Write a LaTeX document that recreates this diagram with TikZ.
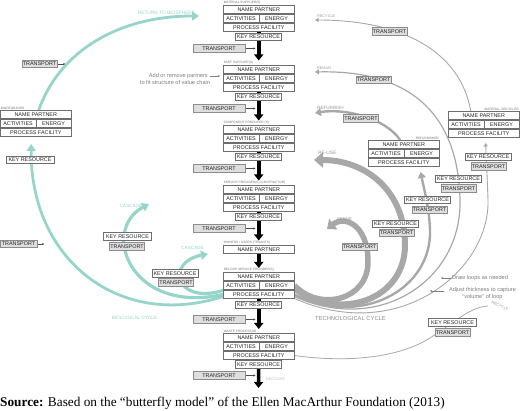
\documentclass[tikz,border=0pt]{standalone}
\usepackage{fontspec}
\setmainfont{Liberation Sans}
\newfontfamily\srcfont{Liberation Serif}
\usetikzlibrary{arrows.meta,backgrounds,calc}
\definecolor{tealc}{RGB}{150,213,201}
\definecolor{loopg}{RGB}{168,168,168}
\definecolor{boxb}{RGB}{110,110,110}
\definecolor{transf}{RGB}{222,222,222}
\definecolor{anng}{RGB}{125,125,125}
\tikzset{
 cell/.style={draw=boxb, line width=0.5pt, fill=white, inner sep=0pt, minimum height=8.5pt, font=\fontsize{5.4}{6}\selectfont, text=black!85},
 plabel/.style={inner sep=0.6pt, font=\fontsize{3.2}{4}\selectfont, text=black!55},
 keyres/.style={draw=boxb, line width=0.5pt, fill=white, inner sep=0pt, minimum width=46pt, minimum height=7.5pt, font=\fontsize{5.4}{6}\selectfont, text=black!85},
 trans/.style={draw=black!45, line width=0.5pt, fill=transf, inner sep=0pt, minimum width=35pt, minimum height=7.5pt, font=\fontsize{5.4}{6}\selectfont, text=black!85},
 ctrans/.style={trans, minimum width=52pt, minimum height=8.5pt},
 flow/.style={line width=3.5pt, black, -{Triangle[length=6pt,width=9pt]}},
 feed/.style={line width=0.4pt, black!70, -{Stealth[length=2pt,width=2pt]}},
 bioflow/.style={tealc, line width=2.8pt, -{Triangle[length=7pt,width=9pt]}},
 tlbl/.style={text=tealc, font=\fontsize{4.6}{5}\selectfont, inner sep=0pt},
 glbl/.style={text=black!40, font=\fontsize{3.8}{5}\selectfont, inner sep=0pt},
 note/.style={text=anng, font=\fontsize{5.6}{6.8}\selectfont, align=center, inner sep=0pt},
}
\newcommand{\pblock}[5]{%
  \node[cell, minimum width=71pt, anchor=north west] (#1n) at (#2,#3) {NAME PARTNER};
  \node[cell, minimum width=35.5pt, anchor=north west] (#1a) at (#1n.south west) {ACTIVITIES};
  \node[cell, minimum width=35.5pt, anchor=north east] (#1e) at (#1n.south east) {ENERGY};
  \node[cell, minimum width=71pt, anchor=north west] (#1p) at (#1a.south west) {PROCESS FACILITY};
  \node[plabel, anchor=south #5] at (#1n.north #5) {#4};
}
\begin{document}
\begin{tikzpicture}[x=1pt,y=-1pt]
\useasboundingbox (0,0) rectangle (520,411);
% central column
\pblock{b1}{223}{5}{MATERIAL SUPPLIER(S)}{west}
\node[keyres] (k1) at (258.5,37) {KEY RESOURCE};
\node[ctrans] (t1) at (219,48.5) {TRANSPORT};
\pblock{b2}{223}{65}{PART SUPPLIER(S)}{west}
\node[keyres] (k2) at (258.5,97) {KEY RESOURCE};
\node[ctrans] (t2) at (219,108.5) {TRANSPORT};
\pblock{b3}{223}{125}{COMPONENT PRODUCER (S)}{west}
\node[keyres] (k3) at (258.5,157) {KEY RESOURCE};
\node[ctrans] (t3) at (219,168.5) {TRANSPORT};
\pblock{b4}{223}{185}{SERVICE PROVIDER(S) (CONTRACTOR)}{west}
\node[keyres] (k4) at (258.5,217) {KEY RESOURCE};
\node[ctrans] (t4) at (219,228.5) {TRANSPORT};
\node[cell, minimum width=71pt, anchor=north west] (b5n) at (223,245) {NAME PARTNER};
\node[plabel, anchor=south west] at (b5n.north west) {OWNERS • USERS (TENANTS)};
\pblock{b6}{223}{272}{RELOOP SERVICE PROVIDER(S)}{west}
\node[keyres] (k6) at (258.5,305) {KEY RESOURCE};
\node[ctrans] (t6) at (219,319.5) {TRANSPORT};
\pblock{b7}{223}{333}{WASTE PROCESSOR}{west}
\node[keyres] (k7) at (258.5,364.5) {KEY RESOURCE};
\node[ctrans] (t7) at (219,375.5) {TRANSPORT};
\coordinate (recov) at (258.5,388);
\node[glbl, text=black!25, anchor=west] at (266,379) {RECOVER};
% side blocks
\pblock{bd}{0}{110}{BIODEGRADER}{west}
\pblock{mr}{448}{111}{MATERIAL RECYCLER}{east}
\pblock{rf}{368}{140}{REFURBISHER}{east}
% left side boxes
\node[trans] (bdT) at (39.5,64) {TRANSPORT};
\node[keyres, minimum width=48pt] (bdK) at (30,160) {KEY RESOURCE};
\node[trans, minimum width=37pt] (bdT2) at (18.5,244) {TRANSPORT};
\node[keyres, minimum width=48pt] (c1K) at (127.5,236.5) {KEY RESOURCE};
\node[trans] (c1T) at (127,246.5) {TRANSPORT};
\node[keyres] (c2K) at (175,273.5) {KEY RESOURCE};
\node[trans] (c2T) at (176,282.5) {TRANSPORT};
% right side boxes
\node[trans] (recT) at (389.5,31.5) {TRANSPORT};
\node[trans] (remT) at (373.5,80) {TRANSPORT};
\node[trans] (refT) at (361,118.5) {TRANSPORT};
\node[keyres] (mrK) at (488,157) {KEY RESOURCE};
\node[trans] (mrT) at (488.5,166.5) {TRANSPORT};
\node[keyres] (remK) at (458.5,179) {KEY RESOURCE};
\node[trans] (remT2) at (458.5,188.5) {TRANSPORT};
\node[keyres] (refK) at (427.5,200) {KEY RESOURCE};
\node[trans] (refT2) at (429.5,210) {TRANSPORT};
\node[keyres] (reuK) at (395.5,224) {KEY RESOURCE};
\node[trans] (reuT) at (396.5,233) {TRANSPORT};
\node[trans] (repT) at (359.5,247) {TRANSPORT};
\node[keyres, minimum width=48pt] (botK) at (452.5,322.5) {KEY RESOURCE};
\node[trans] (botT) at (452.5,332.5) {TRANSPORT};
% tips
\coordinate (retTip) at (199,16);
\coordinate (cas1Tip) at (149,204);
\coordinate (cas2Tip) at (208,254);
\coordinate (recTip) at (315,20);
\coordinate (remTip) at (315,72);
\coordinate (refTip) at (315,113);
\coordinate (reuTip) at (314,160);
\coordinate (repTip) at (327,229);
\coordinate (botEnd) at (488,306);
% labels
\node[tlbl, font=\fontsize{4.8}{5}\selectfont] at (166.5,13) {RETURN TO BIOSPHERE};
\node[tlbl] at (131,206) {CASCADE};
\node[tlbl] at (192.5,248) {CASCADE};
\node[tlbl, font=\fontsize{4.7}{5}\selectfont] at (134.5,318) {BIOLOGICAL CYCLE};
\node[glbl, anchor=west] at (317,16) {RECYCLE};
\node[glbl, anchor=west] at (317,68) {REMAN};
\node[glbl, anchor=west, font=\fontsize{4.6}{5}\selectfont] at (317,108) {REFURBISH};
\node[glbl, anchor=west, font=\fontsize{4.8}{5}\selectfont] at (318,153) {RE-USE};
\node[glbl, anchor=west, font=\fontsize{4}{5}\selectfont] at (337,219) {REPAIR};
\node[glbl, text=black!45, font=\fontsize{5.8}{6}\selectfont] at (350.5,319) {TECHNOLOGICAL CYCLE};
\node[glbl, rotate=-25] at (500,306) {RECYCLE};
% notes
\node[note, anchor=east] (addn) at (208,76) {Add or remove partners};
\node[note] (addn2) at (175,83) {to fit structure of value chain};
\draw[feed, anng] ([xshift=1.5pt]addn.east) -- ([xshift=-3pt]addn.east -| b2a.west);
\node[note, anchor=west] (dln) at (452,278) {Draw loops as needed};
\coordinate (dlnTip) at (441,278);
\draw[feed, anng] ([xshift=-1.5pt]dln.west) -- (dlnTip);
\node[note, anchor=north] (adj) at (482.5,287.5) {Adjust thickness to capture\\“volume” of loop};
\coordinate (adjA) at (444,291);
\coordinate (adjTip) at (430,291);
\draw[feed, anng] (adjA) -- (adjTip);
% source
\node[anchor=base west, inner sep=0pt, font=\srcfont\fontsize{13.3}{15}\selectfont] (src) at (0,407) {\textbf{Source:} Based on the “butterfly model” of the Ellen MacArthur Foundation (2013)};
% connectors on background
\begin{pgfonlayer}{background}
\draw[flow] (b1p.south) -- ([yshift=4.5pt]b2n.north);
\draw[flow] (b2p.south) -- ([yshift=4.5pt]b3n.north);
\draw[flow] (b3p.south) -- ([yshift=4.5pt]b4n.north);
\draw[flow] (b4p.south) -- ([yshift=4.5pt]b5n.north);
\draw[flow] (b5n.south) -- ([yshift=4pt]b6n.north);
\draw[flow] (b6p.south) -- ([yshift=4pt]b7n.north);
\draw[flow] (b7p.south) -- (recov);
\foreach \t/\k in {t1/k1,t2/k2,t3/k3,t4/k4,t6/k6,t7/k7}
  \draw[feed] (\t.east) -- ($(\t.east -| \k.center)+(-3,0)$);
% biological
\draw[bioflow] ([xshift=3pt]bdn.north) .. controls (60,50) and (120,16) .. (retTip);
\draw[bioflow] ([yshift=-2pt]b6p.west) .. controls (120,330) and (30,260) .. ([xshift=-4.5pt,yshift=-7pt]bdp.south);
\draw[bioflow, line width=3.2pt] (b6p.west) .. controls (130,315) and (100,230) .. (cas1Tip);
\draw[bioflow, line width=3.2pt] ([yshift=4pt]b6p.west) .. controls (175,305) and (165,262) .. (cas2Tip);
\draw[feed] (bdT.east) -- ++(8,0);
\draw[feed] (bdT2.east) -- ++(7,0);
% technological
\draw[loopg, line width=5.5pt, -{Triangle[length=8pt,width=13pt]}] (b6e.east) .. controls (320,312) and (368,300) .. (368,262) .. controls (368,225) and (345,215) .. (repTip);
\draw[loopg, line width=6pt, -{Triangle[length=9pt,width=15pt]}] ([yshift=-3pt]b6e.east) .. controls (340,322) and (405,300) .. (405,245) .. controls (405,190) and (365,160) .. (reuTip);
\draw[loopg, line width=2.4pt, -{Triangle[length=6pt,width=8pt]}] (b6p.east) .. controls (360,328) and (432,290) .. (430,230) .. controls (429,205) and (424,190) .. ([xshift=17pt,yshift=-5pt]rfp.south);
\draw[loopg, line width=2.4pt, -{Triangle[length=6pt,width=8pt]}] ([xshift=-3.5pt]rfn.north) .. controls (385,118) and (345,108) .. (refTip);
\draw[loopg, line width=1.2pt, -{Triangle[length=4pt,width=5pt]}] ([yshift=-2pt]b6p.east) .. controls (380,335) and (462,280) .. (460,200) .. controls (458,105) and (400,70) .. (remTip);
\draw[loopg, line width=0.9pt, -{Triangle[length=3.5pt,width=4pt]}] ([yshift=-4pt]b6p.east) .. controls (400,345) and (490,270) .. (488,200) .. controls (487,170) and (486,155) .. ([xshift=2pt,yshift=-5pt]mrp.south);
\draw[loopg, line width=0.9pt, -{Triangle[length=3.5pt,width=4pt]}] ([xshift=-13pt]mrn.north) .. controls (460,50) and (400,20) .. (recTip);
\draw[loopg, line width=0.8pt] (b7p.east) .. controls (340,362) and (395,360) .. (430,338) .. controls (455,322) and (470,307) .. (botEnd);
\end{pgfonlayer}
\end{tikzpicture}
\end{document}
